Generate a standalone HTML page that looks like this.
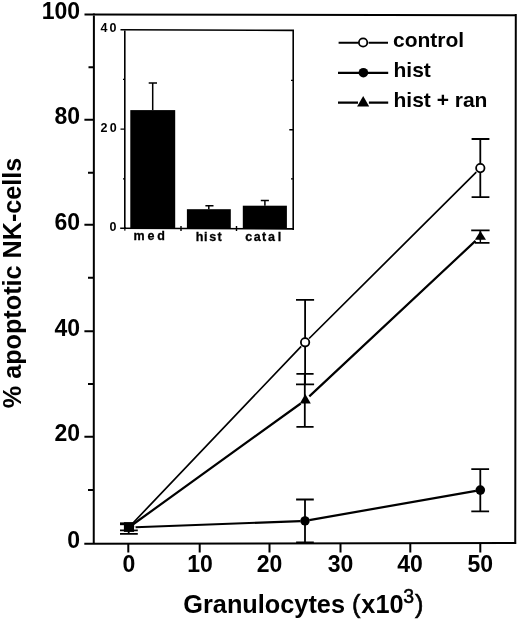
<!DOCTYPE html>
<html><head><meta charset="utf-8"><title>Apoptotic NK-cells vs Granulocytes</title>
<style>
html,body{margin:0;padding:0;background:#fff;}
svg{display:block;}
text{font-family:"Liberation Sans",Arial,sans-serif;font-weight:bold;fill:#000;}
</style></head><body>
<svg width="520" height="621" viewBox="0 0 520 621">
<rect width="520" height="621" fill="#fff"/>
<!-- main axes frame -->
<g stroke="#000" stroke-width="2" fill="none" stroke-linecap="butt">
  <path d="M84.5 14.6 L516.8 15.2 M93.9 13.6 L93.75 544.7 M515.8 14.1 L515.25 544.1 M84.3 543.7 L516.3 543.1"/>
  <!-- major y ticks -->
  <path d="M84.4 436.7 H93.7 M84.4 331.2 H93.7 M84.4 224.7 H93.7 M84.4 119.7 H93.7"/>
  <!-- minor y ticks -->
  <path d="M88 490 H93.7 M88 384 H93.7 M88 277.8 H93.7 M88 172.7 H93.7 M88.5 67.2 H93.7"/>
  <!-- x ticks -->
  <path d="M128.3 543.7 V552.5 M199.7 543.7 V552.5 M269.5 543.7 V552.5 M340.5 543.7 V552.5 M410.3 543.7 V552.5 M480.3 543.7 V552.5"/>
</g>
<!-- y tick labels -->
<g font-size="23" text-anchor="end">
  <text x="80" y="18.6">100</text>
  <text x="80" y="124.2">80</text>
  <text x="80" y="229.6">60</text>
  <text x="80" y="335.8">40</text>
  <text x="80" y="441.3">20</text>
  <text x="80" y="548">0</text>
</g>
<!-- x tick labels -->
<g font-size="23" text-anchor="middle" transform="translate(0 571.5)">
  <text x="128.8" y="0">0</text>
  <text x="200" y="0">10</text>
  <text x="269.6" y="0">20</text>
  <text x="340.5" y="0">30</text>
  <text x="410" y="0">40</text>
  <text x="480.2" y="0">50</text>
</g>
<!-- axis titles -->
<text x="183.3" y="612.5" font-size="25.3">Granulocytes <tspan font-weight="normal" stroke="#000" stroke-width="0.6">(</tspan><tspan dx="0.9">x10</tspan><tspan font-weight="normal" font-size="19.5" dx="-0.3" dy="-9.6" stroke="#000" stroke-width="0.5">3</tspan><tspan dx="0.8" dy="9.6" font-weight="normal" stroke="#000" stroke-width="0.6">)</tspan></text>
<text transform="translate(20.8 408.2) rotate(-90)" font-size="25.2">% apoptotic NK-cells</text>

<!-- inset -->
<g stroke="#000" fill="none">
  <path d="M120.5 29.7 L294 30.4 M124.8 28.9 V230.6 M293.2 29.6 V230.1 M120.2 228.3 L294 228.9" stroke-width="1.6"/>
  <path d="M120.5 129.1 H124.8 M123 79.4 H124.8 M123 178.9 H124.8" stroke-width="1.4"/>
  <path d="M289.3 129.7 H293.3 M291 80.4 H293.3 M291 178.9 H293.3" stroke-width="1.4"/>
  <path d="M181 226 V231 M236.5 226 V231" stroke-width="1.4"/>
</g>
<g font-size="12.5">
  <text x="100.4 109.6" y="32.1">40</text>
  <text x="100.6 109.8" y="131.8">20</text>
  <text x="109.6" y="230.6">0</text>
</g>
<g font-size="12.5" stroke="#000" stroke-width="0.3">
  <text x="133.4 147.5 157.2" y="239.5">med</text>
  <text x="195.8 203.9 209.2 217.4" y="240.7">hist</text>
  <text x="245.3 253.8 262 268.1 277.7" y="240.7">catal</text>
</g>
<g fill="#000">
  <rect x="130.3" y="110.1" width="44.9" height="118.6"/>
  <rect x="186.9" y="209.2" width="43.9" height="19.5"/>
  <rect x="242.8" y="205.7" width="44.1" height="23"/>
</g>
<g stroke="#000" stroke-width="1.5" fill="none">
  <path d="M152.7 110.1 V83.1 M148.7 83.1 H157"/>
  <path d="M208.8 209.2 V205.7 M205.4 205.7 H213.5"/>
  <path d="M264.9 205.7 V200.4 M260.8 200.4 H268.9"/>
</g>

<!-- data lines -->
<g fill="none" stroke="#000" stroke-linecap="butt">
  <path d="M128.7 527.5 L301.2 346.3 M309.1 338.5 L476.3 172.2" stroke-width="1.7"/>
  <path d="M128.7 527.5 L300.7 403.5 M309.3 396.4 L475.5 240.9" stroke-width="2.2"/>
  <path d="M128.7 527.5 L300.6 521.1 M309.3 520.1 L475.9 490.9" stroke-width="2.2"/>
</g>
<!-- error bars -->
<g stroke="#000" stroke-width="1.8" fill="none">
  <!-- control @25 -->
  <path d="M305.1 299.9 V384.3 M296 299.9 H314.1 M296 384.3 H314.1"/>
  <!-- hist+ran @25 -->
  <path d="M304.8 373.9 V426.8 M296.4 373.9 H313.6 M296.4 426.8 H313.6"/>
  <!-- hist @25 -->
  <path d="M305 499.5 V542.7 M296.1 499.5 H313.8 M296.1 542.5 H313.8"/>
  <!-- control @50 -->
  <path d="M480.3 139 V197.1 M471.6 139 H489.4 M471.6 197.1 H489.4"/>
  <!-- hist+ran @50 -->
  <path d="M480.3 230.3 V242.8 M471.2 230.3 H489.6 M474.9 242.8 H489.5"/>
  <!-- hist @50 -->
  <path d="M480.3 469.1 V511.3 M471.3 469.1 H489.1 M471.3 511.3 H489.1"/>
  <!-- @0 -->
  <path d="M120 530.3 H137.8 M120 533.8 H137.8 M128.7 523 V534"/>
  <path d="M120 523.8 H134" stroke-width="2.8"/>
</g>
<!-- markers -->
<rect x="123.9" y="522.2" width="10.2" height="9.7" fill="#000"/>
<rect x="134.1" y="526.2" width="1.5" height="3" fill="#fff"/>
<circle cx="305.1" cy="342.3" r="4.2" fill="#fff" stroke="#000" stroke-width="1.8"/>
<circle cx="480.3" cy="168.1" r="4.2" fill="#fff" stroke="#000" stroke-width="1.8"/>
<circle cx="305" cy="520.9" r="4.7" fill="#000"/>
<circle cx="480.3" cy="490.1" r="4.8" fill="#000"/>
<path d="M305.3 394 L310.8 403.4 L299.8 403.4 Z" fill="#000"/>
<path d="M480.4 231 L486 239.8 L474.9 239.8 Z" fill="#000"/>
<rect x="476.5" y="240.3" width="3" height="1.6" fill="#fff"/>
<rect x="481.2" y="240.3" width="4" height="1.6" fill="#fff"/>

<!-- legend -->
<g stroke="#000" fill="none">
  <path d="M338.6 42.7 H358.6 M368.6 42.7 H388" stroke-width="1.9"/>
  <path d="M338 72.9 H388.2" stroke-width="2.3"/>
  <path d="M338 102.6 H358 M368.9 102.6 H388.2" stroke-width="2.3"/>
</g>
<circle cx="363.1" cy="42.5" r="4.2" fill="#fff" stroke="#000" stroke-width="1.8"/>
<circle cx="363.4" cy="72.7" r="4.8" fill="#000"/>
<path d="M363.2 96 L369.2 106.4 L357.1 106.4 Z" fill="#000"/>
<g font-size="21">
  <text x="393" y="47">control</text>
  <text x="393.5" y="76.5">hist</text>
  <text x="393.5" y="106.5">hist + ran</text>
</g>
</svg>
</body></html>
